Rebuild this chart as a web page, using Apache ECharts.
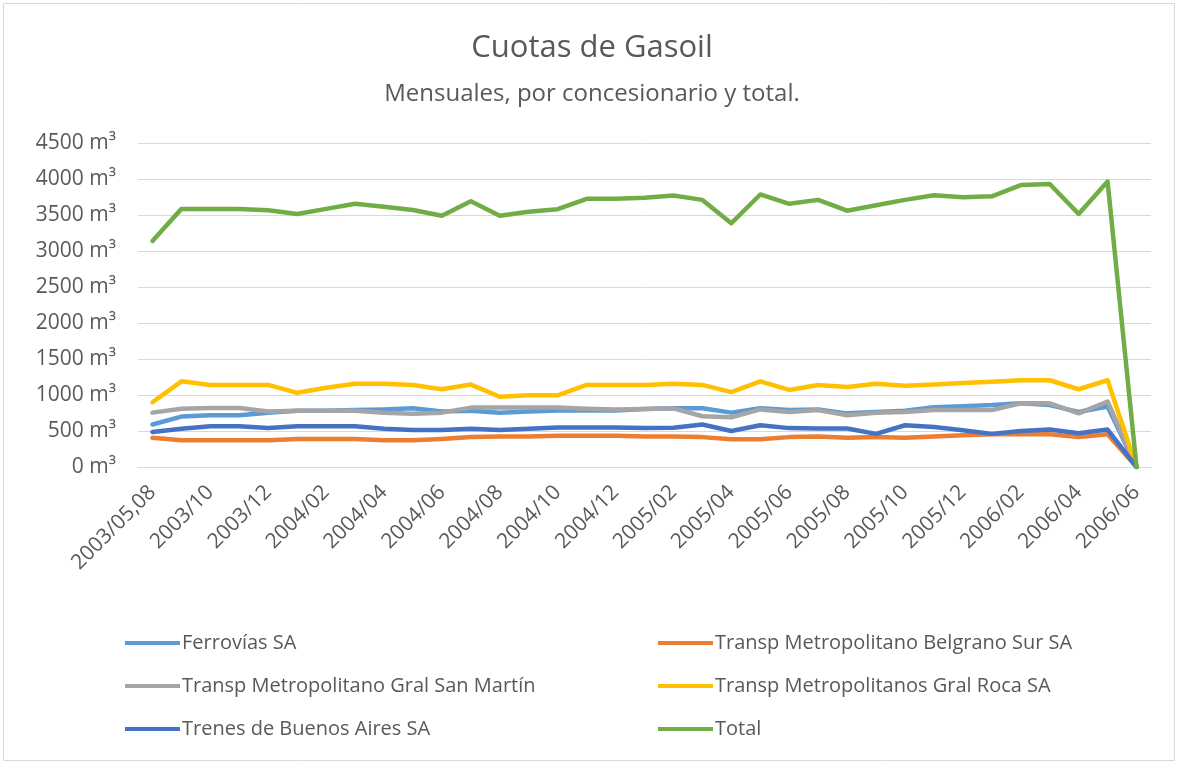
<!DOCTYPE html>
<html>
<head>
<meta charset="utf-8">
<script src="https://cdn.jsdelivr.net/npm/echarts@6/dist/echarts.min.js"></script>
<style>
html,body{margin:0;padding:0;background:#fff;}
#chart{width:1184px;height:767px;}
</style>
</head>
<body>
<div id="chart"></div>
<script>
const categories = ['2003/05,08','2003/09','2003/10','2003/11','2003/12','2004/01','2004/02','2004/03','2004/04','2004/05','2004/06','2004/07','2004/08','2004/09','2004/10','2004/11','2004/12','2005/01','2005/02','2005/03','2005/04','2005/05','2005/06','2005/07','2005/08','2005/09','2005/10','2005/11','2005/12','2006/01','2006/02','2006/03','2006/04','2006/05','2006/06'];
const yTicks = [0,500,1000,1500,2000,2500,3000,3500,4000,4500];

const ferrovias = [590,700,720,720,755,780,780,790,800,815,770,780,755,770,785,785,785,805,815,815,755,815,790,800,745,765,780,830,845,860,885,860,765,840,0];
const belgrano  = [405,370,370,370,370,390,390,390,370,370,390,415,425,425,435,435,435,425,425,415,385,385,415,425,405,415,405,425,440,455,455,455,415,455,0];
const sanMartin = [755,810,820,820,770,780,780,780,755,740,755,825,825,825,825,810,800,805,815,705,690,800,765,790,720,755,765,790,790,790,885,885,745,910,0];
const roca      = [900,1190,1140,1140,1140,1030,1100,1155,1155,1140,1080,1145,975,995,995,1140,1140,1140,1155,1140,1040,1190,1070,1140,1110,1155,1130,1145,1165,1185,1205,1205,1080,1205,0];
const trenes    = [485,530,565,565,540,565,565,565,530,515,515,530,515,530,550,550,550,540,545,590,500,580,540,535,535,460,580,555,510,460,500,520,470,520,0];
const total     = [3140,3585,3585,3585,3565,3515,3585,3655,3615,3570,3490,3690,3490,3545,3580,3725,3725,3740,3770,3710,3385,3785,3655,3710,3560,3635,3710,3775,3745,3760,3915,3930,3515,3965,0];

const names = ['Ferrovías SA','Transp Metropolitano Belgrano Sur SA','Transp Metropolitano Gral San Martín','Transp Metropolitanos Gral Roca SA','Trenes de Buenos Aires SA','Total'];
const colors = ['#5B9BD5','#ED7D31','#A5A5A5','#FFC000','#4472C4','#70AD47'];
const values = [ferrovias, belgrano, sanMartin, roca, trenes, total];

const FONT = 'Open Sans';
const TXT = '#595959';

const chart = echarts.init(document.getElementById('chart'));
const legendCommon = {
  orient: 'vertical',
  top: 633,
  padding: 0,
  icon: 'rect',
  itemWidth: 55,
  itemHeight: 4,
  itemGap: 23,
  textStyle: {color: TXT, fontFamily: FONT, fontSize: 20, padding: [0,0,0,-3]},
  selectedMode: false
};
chart.setOption({
  backgroundColor: '#fff',
  animation: false,
  title: [
    {text: 'Cuotas de Gasoil', left: 'center', top: 28, textStyle: {color: TXT, fontFamily: FONT, fontSize: 31, fontWeight: 'normal'}},
    {text: 'Mensuales, por concesionario y total.', left: 'center', top: 77, textStyle: {color: TXT, fontFamily: FONT, fontSize: 24, fontWeight: 'normal'}}
  ],
  graphic: [{type: 'rect', shape: {x: 3.5, y: 3.5, width: 1171, height: 757}, style: {fill: 'none', stroke: '#d9d9d9', lineWidth: 1}, silent: true, z: -1}],
  legend: [
    Object.assign({}, legendCommon, {left: 125, data: [names[0], names[2], names[4]]}),
    Object.assign({}, legendCommon, {left: 658, data: [names[1], names[3], names[5]]})
  ],
  grid: {left: 138, right: 33, top: 143, bottom: 300, containLabel: false},
  xAxis: {
    type: 'category',
    data: categories,
    boundaryGap: true,
    axisLine: {show: true, lineStyle: {color: '#d9d9d9', width: 1}},
    axisTick: {show: false},
    axisLabel: {interval: 1, rotate: 45, margin: 22, color: TXT, fontFamily: FONT, fontSize: 21}
  },
  yAxis: {
    type: 'value',
    min: yTicks[0],
    max: yTicks[yTicks.length - 1],
    interval: yTicks[1] - yTicks[0],
    axisLine: {show: false},
    axisTick: {show: false},
    splitLine: {lineStyle: {color: '#d9d9d9', width: 1}},
    axisLabel: {margin: 22, color: TXT, fontFamily: FONT, fontSize: 21, formatter: v => v + ' m³'}
  },
  series: values.map((d, i) => ({
    name: names[i],
    type: 'line',
    data: d,
    symbol: 'none',
    showSymbol: false,
    lineStyle: {color: colors[i], width: 4.5, cap: 'round', join: 'round'},
    itemStyle: {color: colors[i]},
    z: 2 + i
  }))
});
</script>
</body>
</html>
